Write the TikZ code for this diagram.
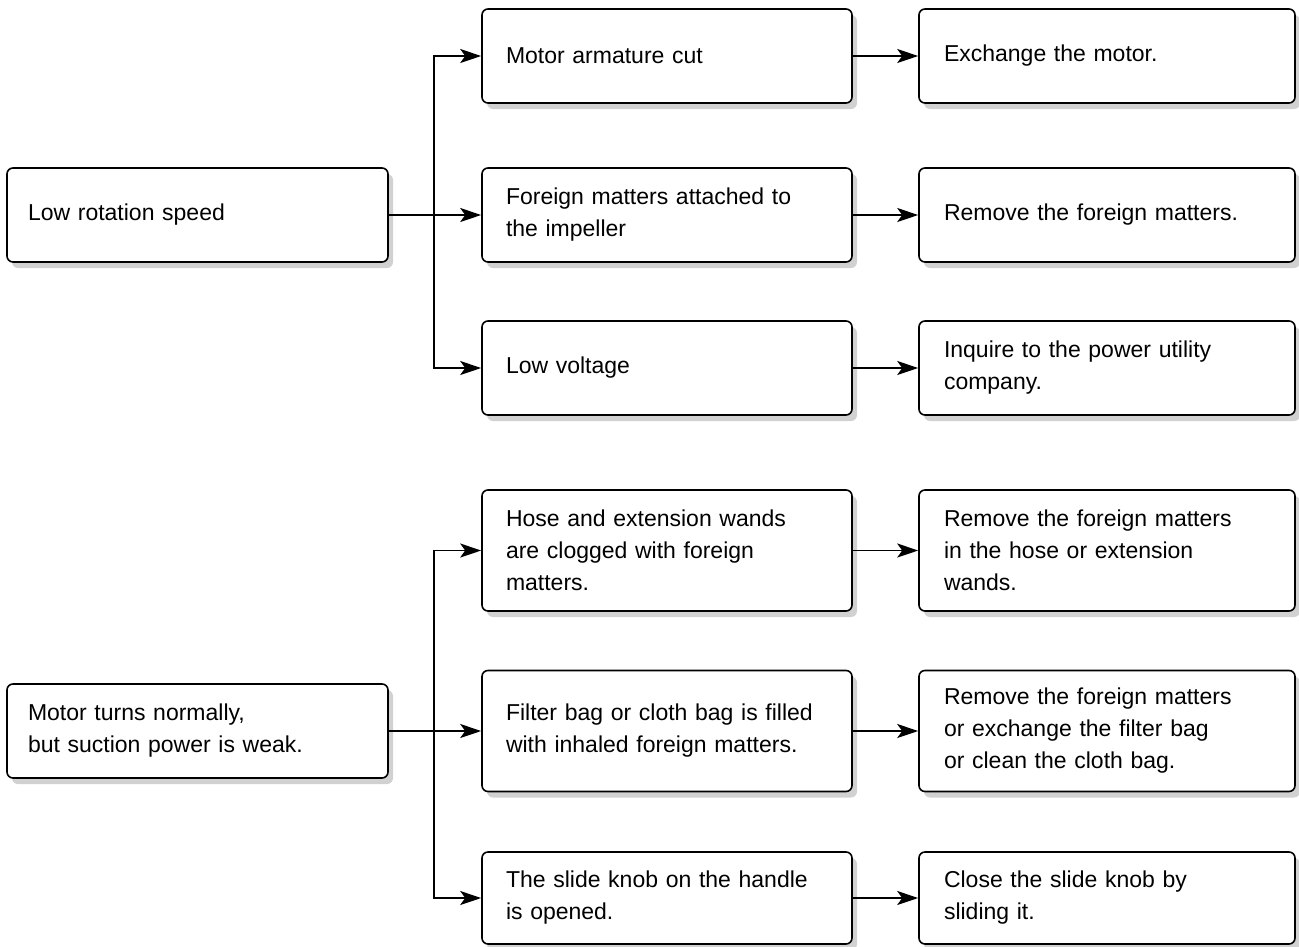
\documentclass[tikz,border=0pt]{standalone}
\usepackage{fontspec}
\setmainfont{Liberation Sans}
\usetikzlibrary{arrows.meta,shadows}

\begin{document}
\begin{tikzpicture}[x=1pt,y=-1pt,
    box/.style={draw, line width=1.6pt, rounded corners=6pt, fill=white,
        align=left, inner xsep=24pt, inner ysep=0pt,
        font=\fontsize{23}{32}\selectfont,
        drop shadow={shadow xshift=5pt, shadow yshift=-6pt, fill=black!18, opacity=1}},
    arrow/.style={line width=1.6pt, -{Stealth[length=21pt, width=14pt, inset=5pt]}},
    link/.style={line width=1.6pt}]
    \useasboundingbox (0,0) rectangle (1299,946);

    % Symptoms
    \node[box, inner xsep=21pt, text width=339pt, minimum height=94pt] (A) at (197.5,215) {Low rotation speed};
    \node[box, inner xsep=21pt, text width=339pt, minimum height=94pt] (B) at (197.5,731) {Motor turns normally,\\but suction power is weak.};

    % Causes (middle column)
    \foreach \i/\y/\h/\txt in {
        1/56/94/{Motor armature cut},
        2/215/94/{Foreign matters attached to\\the impeller},
        3/368/94/{Low voltage},
        4/550.5/121/{Hose and extension wands\\are clogged with foreign\\matters.},
        5/731/121/{Filter bag or cloth bag is filled\\with inhaled foreign matters.},
        6/898/92/{The slide knob on the handle\\is opened.}} {
        \node[box, text width=322pt, minimum height=\h pt] (M\i) at (667,\y) {\txt};
    }

    % Remedies (right column)
    \foreach \i/\y/\h/\txt in {
        1/56/94/{Exchange the motor.},
        2/215/94/{Remove the foreign matters.},
        3/368/94/{Inquire to the power utility\\company.},
        4/550.5/121/{Remove the foreign matters\\in the hose or extension\\wands.},
        5/731/121/{Remove the foreign matters\\or exchange the filter bag\\or clean the cloth bag.},
        6/898/92/{Close the slide knob by\\sliding it.}} {
        \node[box, inner xsep=25pt, text width=326pt, minimum height=\h pt] (R\i) at (1107,\y) {\txt};
    }

    % Branch points
    \coordinate (ja) at (434,215);
    \coordinate (jb) at (434,731);

    % Connectors
    \draw[link] (A.east) -- (ja);
    \draw[link] (B.east) -- (jb);
    \foreach \i in {1,2,3} {
        \draw[arrow] (ja) |- (M\i.west);
    }
    \foreach \i in {4,5,6} {
        \draw[arrow] (jb) |- (M\i.west);
    }
    \foreach \i in {1,...,6} {
        \draw[arrow] (M\i.east) -- (R\i.west);
    }
\end{tikzpicture}
\end{document}
